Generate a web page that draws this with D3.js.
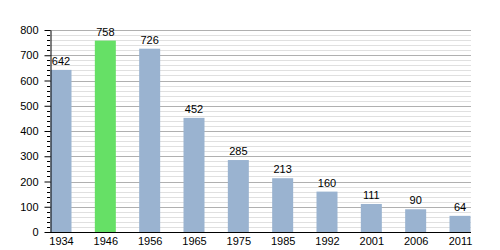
<!DOCTYPE html>
<html><head><meta charset="utf-8">
<script src="https://cdn.jsdelivr.net/npm/d3@7"></script>
<style>body{margin:0;background:#fff;}svg text{font-family:"Liberation Sans",Arial,sans-serif;}</style>
</head><body>
<svg id="c" width="500" height="250"></svg>
<script>
const years = ["1934","1946","1956","1965","1975","1985","1992","2001","2006","2011"];
const population = [642,758,726,452,285,213,160,111,90,64];
const highlight = ["1946"];
const yTicks = [0,100,200,300,400,500,600,700,800];

(function(){
const svg = d3.select("#c");
const mLeft = 50, mRight = 471, mTop = 30, mBottom = 232;
const y = d3.scaleLinear().domain([0,800]).range([mBottom, mTop]);
const x = d3.scalePoint().domain(years).range([61, 460]);
const bw = 21;
const minor = d3.range(0,801,20).filter(v=>v%100!==0);

svg.append("g").selectAll("line").data(minor)
  .join("line").attr("x1",mLeft).attr("x2",mRight).attr("y1",d=>Math.round(y(d))+0.5).attr("y2",d=>Math.round(y(d))+0.5)
  .attr("stroke","#e0e0e0").attr("stroke-width",1);
svg.append("g").selectAll("line").data(yTicks.filter(v=>v>0))
  .join("line").attr("x1",mLeft).attr("x2",mRight).attr("y1",d=>Math.round(y(d))+0.5).attr("y2",d=>Math.round(y(d))+0.5)
  .attr("stroke","#b0b0b0").attr("stroke-width",1);

svg.append("g").selectAll("rect").data(years)
  .join("rect").attr("x",d=>x(d)-bw/2).attr("width",bw)
  .attr("y",(d,i)=>y(population[i])).attr("height",(d,i)=>mBottom-y(population[i]))
  .attr("fill",d=>highlight.includes(d)?"#66e066":"#9ab3d0");

svg.append("g").selectAll("text").data(years)
  .join("text").attr("x",d=>x(d)).attr("y",(d,i)=>y(population[i])-5)
  .attr("text-anchor","middle").attr("font-size",11).attr("fill","#000")
  .text((d,i)=>population[i]);

svg.append("g").selectAll("line").data(minor)
  .join("line").attr("x1",mLeft-3).attr("x2",mLeft).attr("y1",d=>Math.round(y(d))+0.5).attr("y2",d=>Math.round(y(d))+0.5)
  .attr("stroke","#000");
const yAxis = d3.axisLeft(y).tickValues(yTicks).tickSize(6).tickSizeOuter(0).tickPadding(6);
const ga = svg.append("g").attr("transform",`translate(${mLeft+0.5},0)`).call(yAxis);
ga.selectAll("text").attr("font-size",11).attr("fill","#000").style("font-family","Liberation Sans, Arial, sans-serif");
ga.select(".domain").attr("stroke","#000");

const xAxis = d3.axisBottom(x).tickSize(0).tickPadding(5);
const gx = svg.append("g").attr("transform",`translate(0,${mBottom+0.5})`).call(xAxis);
gx.select(".domain").remove();
gx.selectAll("text").attr("font-size",11).attr("fill","#000").style("font-family","Liberation Sans, Arial, sans-serif");
svg.append("line").attr("x1",mLeft).attr("x2",mRight).attr("y1",mBottom+0.5).attr("y2",mBottom+0.5).attr("stroke","#000");
})();
</script>
</body></html>
